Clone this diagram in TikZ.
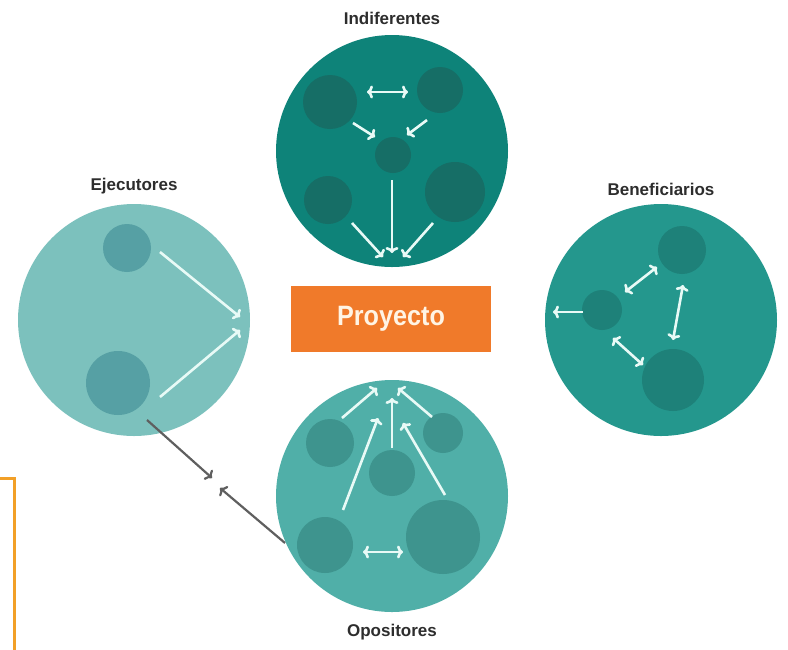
\documentclass[tikz,border=0pt]{standalone}
\usepackage{fontspec}
\setmainfont{Liberation Sans}
\usetikzlibrary{positioning,arrows.meta}

\definecolor{indibig}{RGB}{14,131,121}
\definecolor{indismall}{RGB}{22,110,102}
\definecolor{ejebig}{RGB}{124,193,189}
\definecolor{ejesmall}{RGB}{86,160,164}
\definecolor{benebig}{RGB}{36,151,141}
\definecolor{benesmall}{RGB}{30,129,121}
\definecolor{opobig}{RGB}{80,175,168}
\definecolor{oposmall}{RGB}{62,148,142}
\definecolor{proyorange}{RGB}{240,122,42}
\definecolor{proytext}{RGB}{255,244,228}
\definecolor{framegold}{RGB}{242,160,40}
\definecolor{labelgray}{RGB}{45,45,45}
\definecolor{arrowgray}{RGB}{95,95,95}
\definecolor{arrowwhite}{RGB}{232,250,246}

\begin{document}
\begin{tikzpicture}
  [x=1pt,y=-1pt,>={To[length=6pt,width=13pt]},
   ring/.style={circle,inner sep=0pt,minimum size=232pt},
   ttl/.style={font=\bfseries\fontsize{17}{19}\selectfont,text=labelgray},
   warr/.style={arrowwhite,line width=2.6pt},
   garr/.style={arrowgray,line width=2.2pt,->},]

\useasboundingbox (0,0) rectangle (788,649);

% los cuatro grupos
\node[ring,fill=indibig] (indi) at (392,151) {};
\node[ring,fill=ejebig] (ejec) at (134,320) {};
\node[ring,fill=benebig] (bene) at (661,320) {};
\node[ring,fill=opobig] (opos) at (392,496) {};

\node[ttl] (indi-lbl) at (392,18) {Indiferentes};
\node[ttl] (ejec-lbl) at (134,186) {Ejecutores};
\node[ttl] (bene-lbl) at (661,189) {Beneficiarios};
\node[ttl] (opos-lbl) at (392,632) {Opositores};

% Indiferentes
\fill[indismall] (330,102) circle (27pt);
\fill[indismall] (440,90) circle (23pt);
\fill[indismall] (393,155) circle (18pt);
\fill[indismall] (328,200) circle (24pt);
\fill[indismall] (455,192) circle (30pt);
\draw[warr,<->] (367,92) -- (408,92);
\draw[warr,->] (353,123) -- (375,137);
\draw[warr,->] (427,120) -- (407,135);
\draw[warr,->] (392,180) -- (392,253);
\draw[warr,->] (352,223) -- (383,257);
\draw[warr,->] (433,223) -- (403,257);

% Ejecutores
\fill[ejesmall] (127,248) circle (24pt);
\fill[ejesmall] (118,383) circle (32pt);
\draw[warr,->] (160,252) -- (240,317);
\draw[warr,->] (160,397) -- (240,330);

% Beneficiarios
\fill[benesmall] (682,250) circle (24pt);
\fill[benesmall] (602,310) circle (20pt);
\fill[benesmall] (673,380) circle (31pt);
\draw[warr,<->] (625,292) -- (657,267);
\draw[warr,<->] (683,285) -- (673,340);
\draw[warr,<->] (613,338) -- (643,365);
\draw[warr,->] (583,312) -- (553,312);

% Opositores
\fill[oposmall] (330,443) circle (24pt);
\fill[oposmall] (443,433) circle (20pt);
\fill[oposmall] (392,473) circle (23pt);
\fill[oposmall] (325,545) circle (28pt);
\fill[oposmall] (443,537) circle (37pt);
\draw[warr,->] (342,418) -- (377,388);
\draw[warr,->] (392,448) -- (392,398);
\draw[warr,->] (432,417) -- (398,388);
\draw[warr,->] (343,510) -- (378,418);
\draw[warr,->] (445,495) -- (403,423);
\draw[warr,<->] (363,552) -- (403,552);

% entre Ejecutores y Opositores
\draw[garr] (147,420) -- (212,478);
\draw[garr] (285,543) -- (220,488);

\node[fill=proyorange,minimum width=200pt,minimum height=66pt,text=proytext,
  font=\bfseries\fontsize{28}{32}\selectfont] (proy) at (391,319)
  {\scalebox{0.9}[1]{Proyecto}};

\draw[framegold,line width=3pt] (0,478) -- (14,478) -- (14,650);

\end{tikzpicture}
\end{document}
